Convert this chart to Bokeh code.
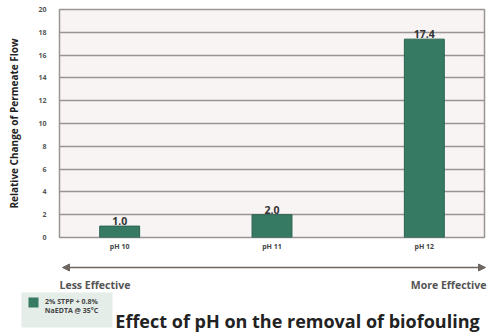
from bokeh.plotting import figure
from bokeh.models import Range1d, FixedTicker, ColumnDataSource, LabelSet, Arrow, NormalHead
from bokeh.layouts import column
from bokeh.core.properties import value
from bokeh.embed import file_html
from bokeh.resources import INLINE

categories = ["pH 10", "pH 11", "pH 12"]
values = [1.0, 2.0, 17.4]
value_labels = ["1.0", "2.0", "17.4"]
y_ticks = [0, 2, 4, 6, 8, 10, 12, 14, 16, 18, 20]
legend_lines = ["2% STPP + 0.8%", "NaEDTA @ 35°C"]
scale_labels = ["Less Effective", "More Effective"]
title_text = "Effect of pH on the removal of biofouling"
y_title = "Relative Change of Permeate Flow"

FONT = "Open Sans"
BAR = "#367a64"
GREY = "#9a9592"
ARROW = "#6d6661"

xs = list(range(len(categories)))
src = ColumnDataSource(dict(x=xs, top=values, lab=value_labels))

p = figure(width=500, height=255, output_backend="svg", toolbar_location=None,
           x_range=Range1d(-0.395, 2.395), y_range=Range1d(0, 20), frame_align=False,
           min_border_left=59, min_border_right=16, min_border_top=9, min_border_bottom=18)
p.background_fill_color = "#f7f4f3"
p.border_fill_color = "white"
p.outline_line_color = GREY
p.outline_line_width = 1.5

p.vbar(x="x", top="top", width=0.262, source=src, fill_color=BAR, line_color="#2a6350", line_width=1)
p.add_layout(LabelSet(x="x", y="top", text="lab", source=src, text_align="center", text_baseline="bottom",
                      y_offset=1, text_font=value(FONT), text_font_size="10.5px", text_font_style="bold",
                      text_color="#333333"))

p.xgrid.visible = False
p.ygrid.grid_line_color = GREY
p.ygrid.grid_line_width = 1.5
p.ygrid.ticker = FixedTicker(ticks=y_ticks)

p.yaxis.ticker = FixedTicker(ticks=y_ticks)
p.yaxis.axis_line_color = None
p.yaxis.major_tick_line_color = None
p.yaxis.major_tick_out = 0
p.yaxis.minor_tick_line_color = None
p.yaxis.major_label_text_font = FONT
p.yaxis.major_label_text_font_size = "7px"
p.yaxis.major_label_text_font_style = "bold"
p.yaxis.major_label_text_color = "#555555"
p.yaxis.major_label_standoff = 13
p.yaxis.axis_label = y_title
p.yaxis.axis_label_text_font = FONT
p.yaxis.axis_label_text_font_size = "10px"
p.yaxis.axis_label_text_font_style = "bold"
p.yaxis.axis_label_text_color = "#222222"
p.yaxis.axis_label_standoff = 14

p.xaxis.ticker = FixedTicker(ticks=xs)
p.xaxis.major_label_overrides = {i: c for i, c in zip(xs, categories)}
p.xaxis.axis_line_color = None
p.xaxis.major_tick_line_color = None
p.xaxis.major_tick_out = 0
p.xaxis.minor_tick_line_color = None
p.xaxis.major_label_text_font = FONT
p.xaxis.major_label_text_font_size = "7px"
p.xaxis.major_label_text_font_style = "bold"
p.xaxis.major_label_text_color = "#444444"
p.xaxis.major_label_standoff = 4

# bottom panel: frame fills the whole panel; coordinates are page pixels (y grows downward)
q = figure(width=500, height=80, output_backend="svg", toolbar_location=None,
           x_range=Range1d(0, 500), y_range=Range1d(335, 255), frame_align=False,
           min_border=0, min_border_left=0, min_border_right=0, min_border_top=0, min_border_bottom=0)
q.axis.visible = False
q.grid.visible = False
q.outline_line_color = None
q.background_fill_color = "white"
q.border_fill_color = "white"

head = dict(size=7, fill_color=ARROW, line_color=ARROW)
q.add_layout(Arrow(x_start=62, y_start=267, x_end=485, y_end=267, line_color=ARROW, line_width=1.5,
                   start=NormalHead(**head), end=NormalHead(**head)))
q.text(x=[59, 486], y=[284, 284], text=scale_labels, text_align=["left", "right"],
       text_baseline="middle", text_font=value(FONT), text_font_size="10.5px",
       text_font_style="bold", text_color="#555555")

q.quad(left=[21], right=[112], top=[292], bottom=[327], fill_color="#e4ede8", line_color=None)
q.quad(left=[28], right=[38], top=[297], bottom=[307], fill_color=BAR, line_color=None)
q.text(x=[71, 71], y=[301, 310], text=legend_lines, text_align="center", text_baseline="middle",
       text_font=value(FONT), text_font_size="7px", text_font_style="bold", text_color="#444444")

q.text(x=[297], y=[320], text=[title_text], text_align="center", text_baseline="middle",
       text_font=value(FONT), text_font_size="18px", text_font_style="bold", text_color="#222222")

layout = column(p, q, spacing=0)
open("out.html", "w").write(file_html(layout, INLINE))
